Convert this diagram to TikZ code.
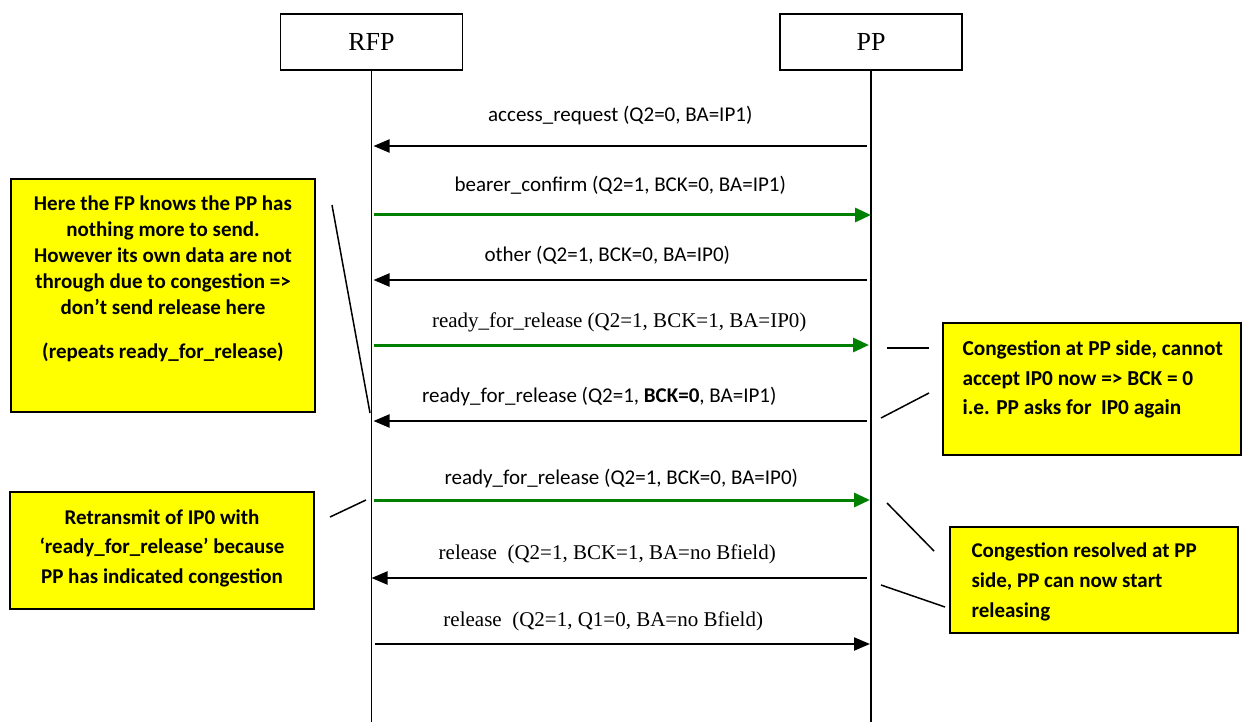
\documentclass[tikz,border=0pt]{standalone}
\usepackage{fontspec}
\setmainfont{Carlito}
\newfontfamily\timesfont{Liberation Serif}
\usepackage{xcolor}
\usetikzlibrary{positioning, arrows.meta, calc}
\definecolor{notefill}{RGB}{255,255,0}
\definecolor{okgreen}{RGB}{0,128,0}
\tikzset{
  actor/.style={
    draw=black, line width=1.3pt,
    minimum width=182pt, minimum height=56pt, inner sep=0pt,
    font=\timesfont\fontsize{26}{30}\selectfont,
  },
  life/.style={draw=black, line width=1.5pt},
  msg/.style={draw=black, line width=2.2pt, -{Triangle[length=16pt, width=13pt]}},
  msgG/.style={draw=okgreen, line width=3pt, -{Triangle[length=16pt, width=14pt]}},
  lbl/.style={font=\fontsize{21}{25}\selectfont, inner sep=0pt,
    text height=15pt, text depth=5pt},
  lblT/.style={lbl, font=\timesfont\fontsize{21}{25}\selectfont},
  notebox/.style={draw=black, line width=1.3pt, fill=notefill},
  notetext/.style={font=\bfseries\fontsize{21}{26}\selectfont, inner sep=0pt},
  pin/.style={draw=black, line width=1.5pt},
}

\begin{document}
\begin{tikzpicture}[x=1pt, y=-1pt]
\useasboundingbox (0,0) rectangle (1242,722);

% entities and lifelines
\node[actor] (rfp) at (371.5,42) {RFP};
\node[actor] (pp) at (871,42) {PP};
\coordinate (rfpEnd) at (rfp |- 0,722);
\coordinate (ppEnd) at (pp |- 0,722);
\draw[life] (rfp) -- (rfpEnd);
\draw[life] (pp) -- (ppEnd);

% message anchors on the lifelines
\coordinate (r1) at (rfp |- 0,146); \coordinate (p1) at (pp |- 0,146);
\coordinate (r2) at (rfp |- 0,215); \coordinate (p2) at (pp |- 0,215);
\coordinate (r3) at (rfp |- 0,280); \coordinate (p3) at (pp |- 0,280);
\coordinate (r4) at (rfp |- 0,345); \coordinate (p4) at (pp |- 0,345);
\coordinate (r5) at (rfp |- 0,421); \coordinate (p5) at (pp |- 0,421);
\coordinate (r6) at (rfp |- 0,500); \coordinate (p6) at (pp |- 0,500);
\coordinate (r7) at (rfp |- 0,578); \coordinate (p7) at (pp |- 0,578);
\coordinate (r8) at (rfp |- 0,644); \coordinate (p8) at (pp |- 0,644);

\draw[msg, shorten <=4pt, shorten >=2pt] (p1) -- node[lbl, above=18pt, xshift=-1pt] {access\_request (Q2=0, BA=IP1)} (r1);
\draw[msgG, shorten <=2pt] (r2) -- node[lbl, above=17pt, xshift=-1pt] {bearer\_confirm (Q2=1, BCK=0, BA=IP1)} (p2);
\draw[msg, shorten <=4pt, shorten >=2pt] (p3) -- node[lbl, above=12pt, xshift=-14pt] {other (Q2=1, BCK=0, BA=IP0)} (r3);
\draw[msgG, shorten <=2pt, shorten >=2pt] (r4) -- node[lblT, above=11pt, xshift=-2pt] {ready\_for\_release (Q2=1, BCK=1, BA=IP0)} (p4);
\draw[msg, shorten <=4pt, shorten >=2pt] (p5) -- node[lbl, above=12pt, xshift=-22pt] {ready\_for\_release (Q2=1, {\bfseries BCK=0}, BA=IP1)} (r5);
\draw[msgG, shorten <=2pt, shorten >=1pt] (r6) -- node[lbl, above=9pt] {ready\_for\_release (Q2=1, BCK=0, BA=IP0)} (p6);
\draw[msg, shorten <=4pt] (p7) -- node[lblT, above=12pt, xshift=-14pt] {release\ \ (Q2=1, BCK=1, BA=no Bfield)} (r7);
\draw[msg, shorten <=3pt, shorten >=1pt] (r8) -- node[lblT, above=11pt, xshift=-18pt] {release\ \ (Q2=1, Q1=0, BA=no Bfield)} (p8);

% yellow notes
\node[notebox, minimum width=304pt, minimum height=233pt] (fpNote) at (163,295.5) {};
\node[notetext, align=center, below=17pt of fpNote.north] (fpText) {Here the FP knows the PP has\\nothing more to send.\\However its own data are not\\through due to congestion =>\\don’t send release here\\[18pt](repeats ready\_for\_release)};

\node[notebox, minimum width=298pt, minimum height=132pt] (ppNote) at (1092,389) {};
\node[notetext, align=left, font=\bfseries\fontsize{21.3}{29.5}\selectfont, below right=18pt and 20pt of ppNote.north west] (ppText) {Congestion at PP side, cannot\\accept IP0 now => BCK = 0\\i.e. PP asks for\ \ IP0 again};

\node[notebox, minimum width=304pt, minimum height=117pt] (rtNote) at (162,550.5) {};
\node[notetext, align=center, font=\bfseries\fontsize{21}{29.5}\selectfont, below=18pt of rtNote.north] (rtText) {Retransmit of IP0 with\\‘ready\_for\_release’ because\\PP has indicated congestion};

\node[notebox, minimum width=288pt, minimum height=106pt] (okNote) at (1094,580) {};
\node[notetext, align=left, font=\bfseries\fontsize{21}{30}\selectfont, below right=16pt and 22pt of okNote.north west] (okText) {Congestion resolved at PP\\side, PP can now start\\releasing};

% pointer strokes
\coordinate (fpA) at (332,205); \coordinate (fpB) at (370,413);
\coordinate (ppA) at (887,348); \coordinate (ppB) at (929,348);
\coordinate (ppC) at (881,418); \coordinate (ppD) at (929,393);
\coordinate (rtA) at (330,517); \coordinate (rtB) at (366,500);
\coordinate (okA) at (887,503); \coordinate (okB) at (934,551);
\coordinate (okC) at (881,585); \coordinate (okD) at (945,607);
\draw[pin] (fpA) -- (fpB);
\draw[pin] (ppA) -- (ppB);
\draw[pin] (ppC) -- (ppD);
\draw[pin] (rtA) -- (rtB);
\draw[pin] (okA) -- (okB);
\draw[pin] (okC) -- (okD);

\end{tikzpicture}
\end{document}
